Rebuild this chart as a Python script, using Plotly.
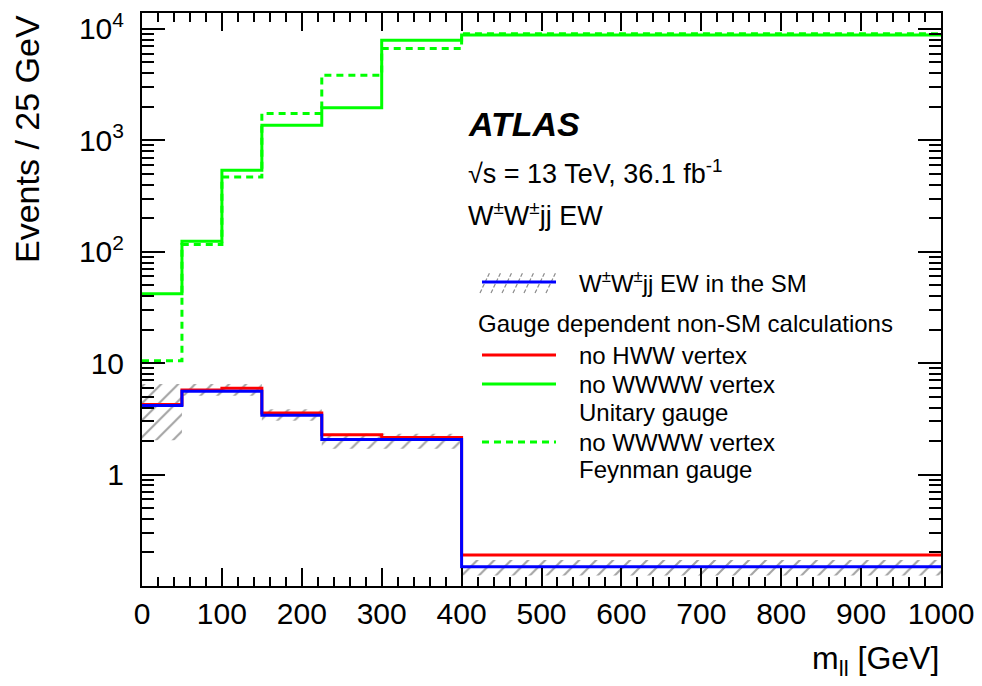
import numpy as np
import plotly.graph_objects as go

# ---------------- data ----------------
bin_edges = [0, 50, 100, 150, 225, 300, 400, 1000]
sm_ew = [4.17, 5.6, 5.6, 3.4, 2.07, 2.07, 0.149]
sm_ew_hi = [6.5, 6.5, 6.5, 3.85, 2.33, 2.33, 0.171]
sm_ew_lo = [2.03, 5.1, 5.1, 3.05, 1.71, 1.71, 0.124]
no_hww = [4.25, 5.75, 5.95, 3.57, 2.28, 2.15, 0.19]
no_wwww_unitary = [42, 124, 538, 1363, 1963, 7910, 8800]
no_wwww_feynman = [10.5, 116, 469, 1745, 3844, 6670, 9050]

x_tickvals = list(range(0, 1001, 100))
y_tickvals = [1, 10, 100, 1000, 10000]
y_ticktext = ["1", "10", "10<sup>2</sup>", "10<sup>3</sup>", "10<sup>4</sup>"]

FONT = "Liberation Sans, Arial, Helvetica, sans-serif"


def step_xy(edges, vals):
    return list(edges), list(vals) + [vals[-1]]


def band_xy(edges, lo, hi):
    xs, ys = [], []
    for i in range(len(hi)):
        xs += [edges[i], edges[i + 1]]
        ys += [hi[i], hi[i]]
    for i in reversed(range(len(lo))):
        xs += [edges[i + 1], edges[i]]
        ys += [lo[i], lo[i]]
    xs.append(xs[0])
    ys.append(ys[0])
    return xs, ys


fig = go.Figure()

# hatched SM uncertainty band
bx, by = band_xy(bin_edges, sm_ew_lo, sm_ew_hi)
fig.add_trace(go.Scatter(
    x=bx, y=by, mode="lines", fill="toself",
    line=dict(width=0, color="rgba(0,0,0,0)"),
    fillcolor="rgba(0,0,0,0)",
    fillpattern=dict(shape="/", fgcolor="rgba(50,50,50,0.9)",
                     bgcolor="rgba(0,0,0,0)", size=12, solidity=0.17),
    hoverinfo="skip", showlegend=False))

sx, sy = step_xy(bin_edges, no_wwww_unitary)
fig.add_trace(go.Scatter(x=sx, y=sy, mode="lines", line_shape="hv",
                         line=dict(color="#00ff00", width=3), showlegend=False))
sx, sy = step_xy(bin_edges, no_wwww_feynman)
fig.add_trace(go.Scatter(x=sx, y=sy, mode="lines", line_shape="hv",
                         line=dict(color="#00ff00", width=3, dash="7px,5px"),
                         showlegend=False))
sx, sy = step_xy(bin_edges, no_hww)
fig.add_trace(go.Scatter(x=sx, y=sy, mode="lines", line_shape="hv",
                         line=dict(color="#ff0000", width=3), showlegend=False))
sx, sy = step_xy(bin_edges, sm_ew)
fig.add_trace(go.Scatter(x=sx, y=sy, mode="lines", line_shape="hv",
                         line=dict(color="#0000ff", width=3), showlegend=False))

# minor log ticks
minor_vals = []
for p in range(-1, 5):
    for m in range(2, 10):
        v = m * 10.0 ** p
        if v < 14000:
            minor_vals.append(v)

fig.update_xaxes(
    range=[0, 1000], showgrid=False, zeroline=False,
    showline=True, linecolor="black", linewidth=2, mirror="ticks",
    ticks="inside", ticklen=18, tickwidth=1.5, tickcolor="black",
    tickvals=x_tickvals, ticklabelstandoff=0,
    tickfont=dict(family=FONT, size=30, color="black"),
    minor=dict(ticks="inside", ticklen=9, tickwidth=1.5, tickcolor="black",
               dtick=20, tick0=0, showgrid=False),
    automargin=False)
fig.update_yaxes(
    type="log", range=[-1, 4.143], showgrid=False, zeroline=False,
    showline=True, linecolor="black", linewidth=2, mirror="ticks",
    ticks="inside", ticklen=23, tickwidth=1.5, tickcolor="black",
    tickmode="array", tickvals=y_tickvals, ticktext=y_ticktext,
    ticklabelstandoff=10,
    tickfont=dict(family=FONT, size=30, color="black"),
    minor=dict(ticks="inside", ticklen=12, tickwidth=1.5, tickcolor="black",
               tickmode="array", tickvals=minor_vals, showgrid=False),
    automargin=False)


def px2x(px):
    return (px - 142) / 799.0


def px2y(py):
    return (586 - py) / 573.0


annotations = [
    dict(text="Events / 25 GeV", textangle=-90, x=px2x(27), y=1.0,
         xanchor="center", yanchor="top", font=dict(size=34)),
    dict(text="m<sub>ll</sub> [GeV]", x=1.0, y=px2y(660),
         xanchor="right", yanchor="middle", font=dict(size=32)),
    dict(text="<b><i>ATLAS</i></b>", x=px2x(466), y=px2y(124),
         xanchor="left", yanchor="middle", font=dict(size=34)),
    dict(text="√s = 13 TeV, 36.1 fb<sup>-1</sup>", x=px2x(466), y=px2y(172),
         xanchor="left", yanchor="middle", font=dict(size=27)),
    dict(text="W<sup>±</sup>W<sup>±</sup>jj EW", x=px2x(466), y=px2y(214),
         xanchor="left", yanchor="middle", font=dict(size=27)),
    dict(text="W<sup>±</sup>W<sup>±</sup>jj EW in the SM", x=px2x(577), y=px2y(282),
         xanchor="left", yanchor="middle", font=dict(size=24)),
    dict(text="Gauge dependent non-SM calculations", x=px2x(476), y=px2y(324),
         xanchor="left", yanchor="middle", font=dict(size=24)),
    dict(text="no HWW vertex", x=px2x(577), y=px2y(355),
         xanchor="left", yanchor="middle", font=dict(size=24)),
    dict(text="no WWWW vertex", x=px2x(577), y=px2y(384),
         xanchor="left", yanchor="middle", font=dict(size=24)),
    dict(text="Unitary gauge", x=px2x(577), y=px2y(412),
         xanchor="left", yanchor="middle", font=dict(size=24)),
    dict(text="no WWWW vertex", x=px2x(577), y=px2y(442),
         xanchor="left", yanchor="middle", font=dict(size=24)),
    dict(text="Feynman gauge", x=px2x(577), y=px2y(470),
         xanchor="left", yanchor="middle", font=dict(size=24)),
]
for a in annotations:
    a.update(xref="paper", yref="paper", showarrow=False)
    a["font"].update(family=FONT, color="black")

# legend samples
lx0, lx1 = px2x(482), px2x(556)
shapes = []
hatch_path = ""
for k in range(7):
    x0 = 480 + k * 11
    hatch_path += "M {:.4f},{:.4f} L {:.4f},{:.4f} ".format(
        px2x(x0), px2y(293), px2x(x0 + 10), px2y(272))
shapes.append(dict(type="path", path=hatch_path, xref="paper", yref="paper",
                   line=dict(color="rgba(110,110,110,0.8)", width=1.2, dash="4px,2px")))
shapes.append(dict(type="line", xref="paper", yref="paper", x0=lx0, x1=lx1,
                   y0=px2y(282), y1=px2y(282), line=dict(color="#0000ff", width=3)))
shapes.append(dict(type="line", xref="paper", yref="paper", x0=lx0, x1=lx1,
                   y0=px2y(355), y1=px2y(355), line=dict(color="#ff0000", width=3)))
shapes.append(dict(type="line", xref="paper", yref="paper", x0=lx0, x1=lx1,
                   y0=px2y(384), y1=px2y(384), line=dict(color="#00ff00", width=3)))
shapes.append(dict(type="line", xref="paper", yref="paper", x0=lx0, x1=lx1,
                   y0=px2y(442), y1=px2y(442),
                   line=dict(color="#00ff00", width=3, dash="7px,5px")))

fig.update_layout(
    width=982, height=686,
    margin=dict(l=142, r=41, t=13, b=100),
    paper_bgcolor="white", plot_bgcolor="white",
    font=dict(family=FONT, color="black"),
    annotations=annotations, shapes=shapes,
    showlegend=False)

fig.write_html("out.html")
